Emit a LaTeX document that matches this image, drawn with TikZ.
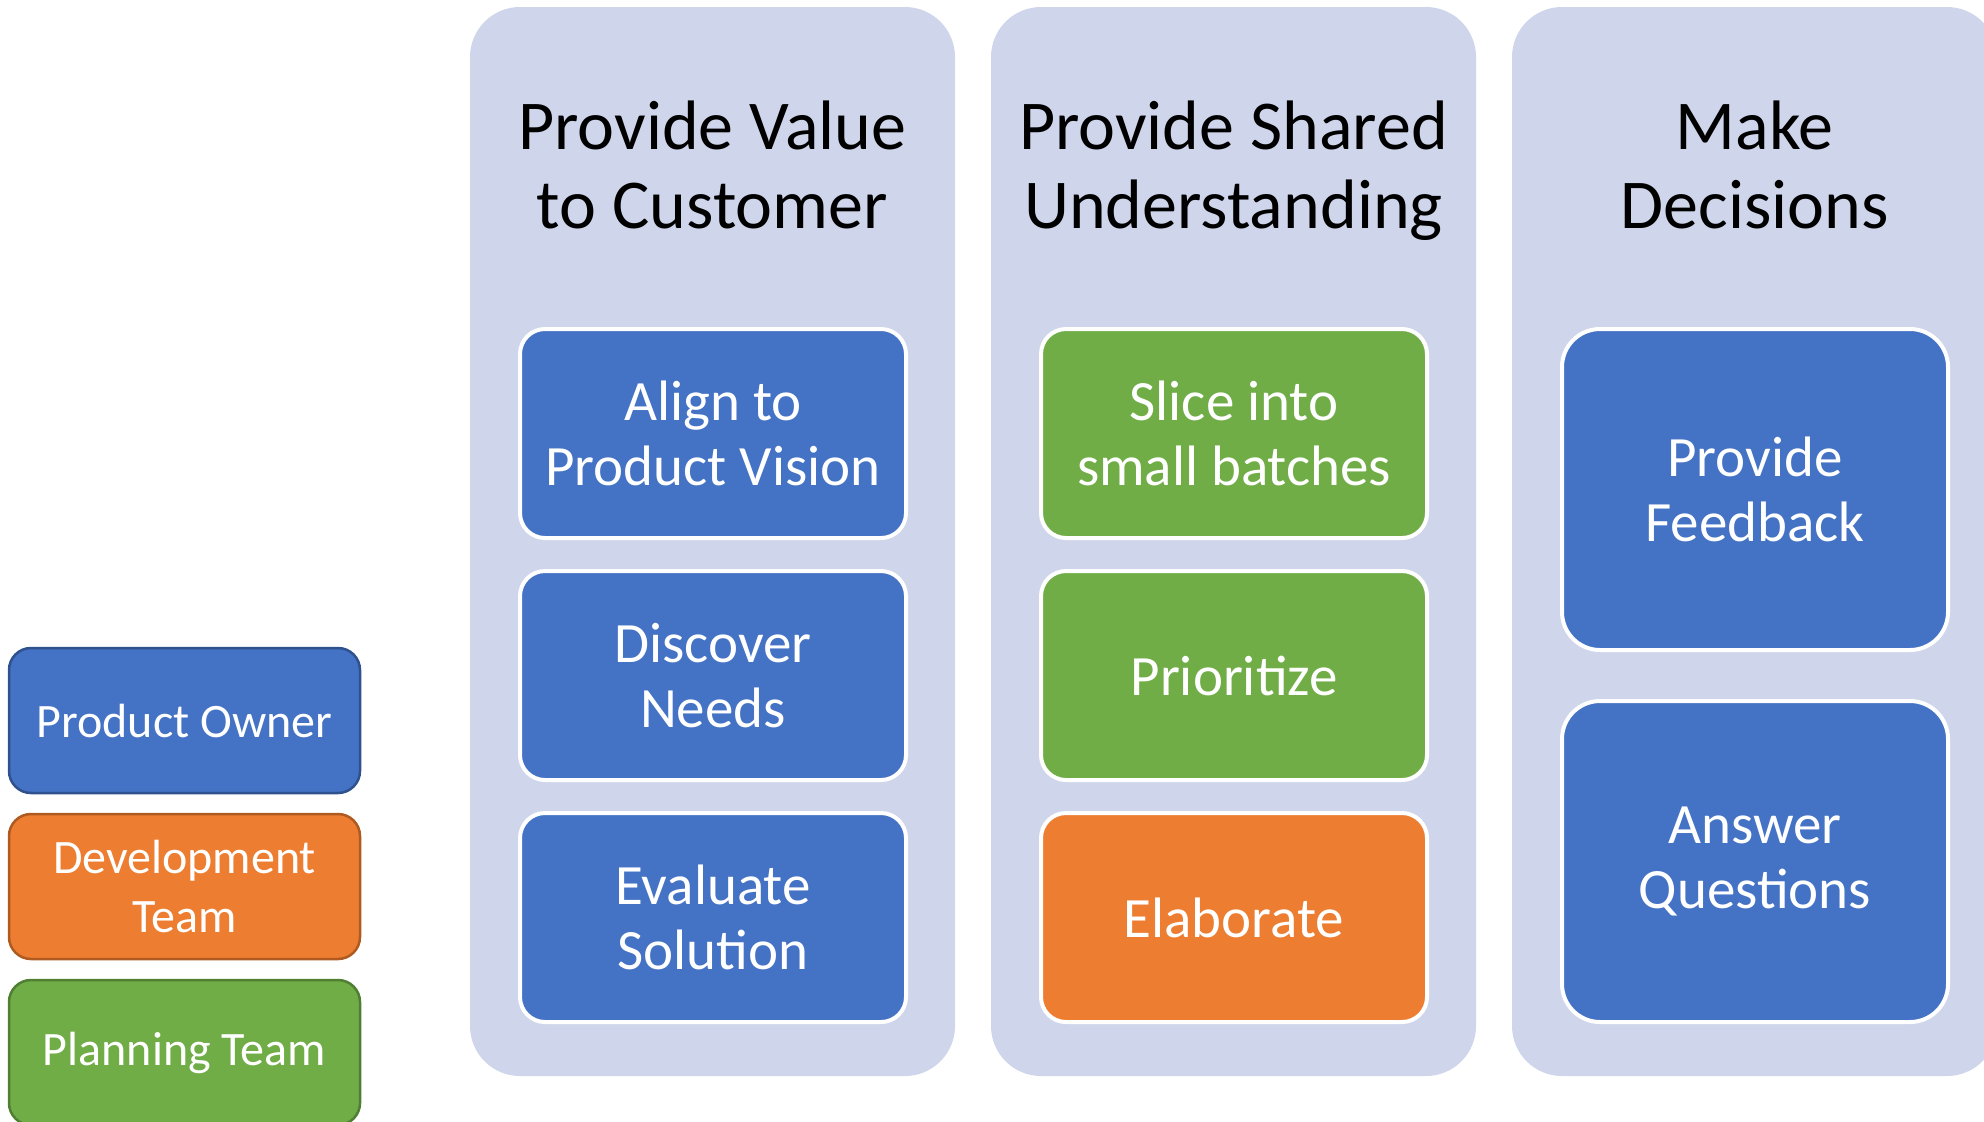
\documentclass[tikz,border=0pt]{standalone}
\usepackage{fontspec}
\setmainfont{Carlito}
\usetikzlibrary{positioning}
\definecolor{lanebg}{HTML}{CFD5EA}
\definecolor{po}{HTML}{4472C4}
\definecolor{poline}{HTML}{2F528F}
\definecolor{dev}{HTML}{ED7D31}
\definecolor{devline}{HTML}{AE5A21}
\definecolor{plan}{HTML}{70AD47}
\definecolor{planline}{HTML}{507E32}
\tikzset{lane/.style={rectangle, rounded corners=25pt, fill=lanebg, inner sep=0pt,
   minimum width=242.5pt, minimum height=534.5pt}}
\tikzset{head/.style={align=center, anchor=base, font=\fontsize{35pt}{39.5pt}\selectfont}}
\tikzset{task/.style={rectangle, rounded corners=12.5pt, draw=white, line width=2pt,
   text=white, align=center, outer sep=0pt,
   minimum width=193pt, minimum height=104.5pt,
   font=\fontsize{28.5pt}{32.5pt}\selectfont}}
\tikzset{key/.style={rectangle, rounded corners=11pt, line width=1.25pt,
   text=white, align=center, outer sep=0pt,
   minimum width=175.5pt, minimum height=72.5pt,
   font=\fontsize{24pt}{29.5pt}\selectfont}}

\begin{document}
\begin{tikzpicture}[x=0.5pt, y=-0.5pt, node distance=16.5pt]

    \useasboundingbox (0,0) rectangle (1984,1121);

    \node[lane] (value)  at (712.5,541.5)  {};
    \node[lane] (shared) at (1233.5,541.5) {};
    \node[lane] (decide) at (1754.5,541.5) {};

    \node[head] (valuehead)  at (712.5,228)  {Provide Value\\to Customer};
    \node[head] (sharedhead) at (1233.5,228) {Provide Shared\\Understanding};
    \node[head] (decidehead) at (1754.5,228) {Make\\Decisions};

    \node[task, fill=po] (align) at (713,433.5) {Align to\\Product Vision};
    \node[task, fill=po, below=of align] (discover) {Discover\\Needs};
    \node[task, fill=po, below=of discover] (evaluate) {Evaluate\\Solution};

    \node[task, fill=plan] (slice) at (1234,433.5) {Slice into\\small batches};
    \node[task, fill=plan, below=of slice] (prioritize) {Prioritize};
    \node[task, fill=dev, below=of prioritize] (elaborate) {Elaborate};

    \node[task, fill=po, minimum height=160.5pt, rounded corners=19pt] (feedback) at (1755,489.5) {Provide\\Feedback};
    \node[task, fill=po, minimum height=160.5pt, rounded corners=19pt, below=25.5pt of feedback] (answer) {Answer\\Questions};

    \node[key, fill=po, draw=poline] (owner) at (184.5,720.5) {Product Owner};
    \node[key, fill=dev, draw=devline, below=10.5pt of owner] (devteam) {Development\\Team};
    \node[key, fill=plan, draw=planline, below=10.5pt of devteam] (planteam) {Planning Team};

  \end{tikzpicture}
\end{document}
